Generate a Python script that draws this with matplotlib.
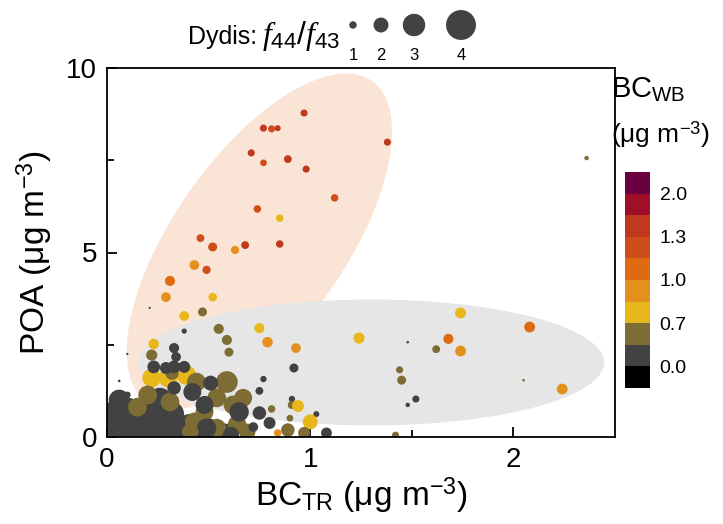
import matplotlib
matplotlib.use("Agg")
import matplotlib.pyplot as plt
import numpy as np
from matplotlib.colors import ListedColormap, BoundaryNorm
from matplotlib.patches import Ellipse
from matplotlib.transforms import Affine2D
import matplotlib.colorbar as mcolorbar

plt.rcParams['font.family'] = ['Liberation Sans', 'DejaVu Sans']
plt.rcParams['mathtext.fontset'] = 'custom'
plt.rcParams['mathtext.rm'] = 'Liberation Sans'
plt.rcParams['mathtext.it'] = 'Liberation Serif:italic'

# BC_TR, POA, BC_WB, f44/f43  (dense cluster near origin first, then the rest)
bc_tr = [0.04, 0.14, 0.24, 0.33, 0.10, 0.21, 0.31, 0.41, 0.49, 0.06, 0.26, 0.58, 0.01,
         0.22, 0.30, 0.39,
         0.20, 0.15, 0.31, 0.44, 0.59, 0.54, 0.62, 0.48, 0.43, 0.54, 0.64, 0.67, 0.32,
         0.34, 0.23, 0.33, 0.38, 0.29, 0.33, 0.42, 0.51, 0.48, 0.65, 0.49, 0.61, 0.07, 0.10,
         0.41, 0.69,
         0.97, 0.77, 0.81, 0.84, 1.38, 0.71, 0.77, 0.89, 0.98, 1.12, 0.74, 0.85, 0.85,
         0.46, 0.52, 0.68, 0.63, 0.43, 0.49, 0.31, 0.29, 0.52, 0.21, 0.38, 0.47,
         0.38, 0.55, 0.59, 0.60, 0.75, 0.79, 0.93, 0.23, 0.22, 0.33, 0.10, 0.06,
         0.92, 0.77, 0.75, 0.91, 0.91, 0.94, 0.81, 1.03, 1.00, 1.08, 0.90, 1.24,
         0.75, 0.80, 0.72, 0.84, 0.89, 0.97,
         1.74, 2.08, 1.68, 1.48, 1.62, 1.74, 1.44, 1.45, 2.05, 2.24, 1.52, 1.48, 1.42, 2.36]
poa = [0.24, 0.19, 0.24, 0.19, 0.68, 0.68, 0.60, 0.24, 0.19, 1.00, 1.00, 0.08, 0.60,
       1.60, 1.60, 1.68,
       1.14, 0.81, 0.95, 1.49, 1.49, 1.06, 0.87, 0.68, 0.41, 0.24, 0.33, 1.06, 1.73,
       2.17, 1.90, 1.90, 1.90, 1.87, 1.33, 1.22, 1.46, 0.87, 0.68, 0.24, 0.05, 1.08, 1.14,
       0.14, 0.14,
       8.78, 8.37, 8.35, 8.37, 7.99, 7.70, 7.43, 7.53, 7.26, 6.48, 6.18, 5.93, 5.23,
       5.39, 5.15, 5.20, 5.07, 4.66, 4.53, 4.23, 3.79, 3.79, 3.50, 3.28, 3.39,
       2.87, 2.93, 2.63, 2.30, 2.95, 2.57, 2.41, 2.52, 2.22, 2.41, 2.25, 1.52,
       1.87, 1.57, 1.25, 1.03, 0.87, 0.84, 0.76, 0.62, 0.41, 0.11, 0.51, 2.68,
       0.65, 0.38, 0.27, 0.11, 0.19, 0.11,
       3.36, 2.98, 2.66, 2.57, 2.38, 2.33, 1.82, 1.54, 1.54, 1.30, 1.03, 0.87, 0.05, 7.56]
bc_wb = [0.2, 0.2, 0.2, 0.2, 0.2, 0.2, 0.2, 0.2, 0.2, 0.2, 0.2, 0.2, 0.2,
         0.78, 0.78, 0.78,
         0.5, 0.5, 0.5, 0.5, 0.5, 0.5, 0.5, 0.5, 0.5, 0.5, 0.5, 0.5, 0.5,
         0.2, 0.2, 0.2, 0.2, 0.2, 0.2, 0.2, 0.2, 0.2, 0.2, 0.2, 0.2, 0.2, 0.2,
         0.5, 0.5,
         1.45, 1.45, 1.22, 1.45, 1.45, 1.45, 1.22, 1.45, 1.45, 1.22, 1.22, 0.78, 1.45,
         1.22, 1.22, 1.45, 0.92, 0.92, 1.22, 1.08, 0.92, 0.78, 0.2, 0.78, 0.5,
         0.2, 0.5, 0.5, 0.5, 0.78, 0.92, 0.92, 0.78, 0.5, 0.2, 0.2, 0.2,
         0.2, 0.2, 0.2, 0.2, 0.5, 0.78, 0.5, 0.2, 0.78, 0.2, 0.5, 0.78,
         0.2, 0.2, 0.2, 0.92, 0.5, 0.5,
         0.78, 1.08, 1.08, 0.2, 0.5, 0.92, 0.5, 0.5, 0.5, 0.92, 0.2, 0.2, 0.5, 0.5]
ratio = [4.3, 4.3, 4.3, 4.3, 3.8, 3.8, 3.8, 3.8, 3.3, 2.8, 3.3, 2.8, 3.3,
         2.5, 2.5, 2.6,
         2.5, 2.5, 2.5, 2.5, 2.9, 2.5, 2.5, 2.4, 2.5, 2.5, 2.5, 2.4, 1.8,
         1.3, 1.7, 1.7, 1.6, 1.6, 1.8, 2.4, 2.0, 2.4, 2.6, 2.6, 2.2, 0.7, 0.9,
         2.2, 2.2,
         0.95, 0.95, 0.95, 0.8, 0.95, 0.95, 0.9, 1.05, 0.95, 1.0, 1.0, 1.0, 1.0,
         1.05, 1.2, 1.05, 1.1, 1.3, 1.1, 1.35, 1.3, 1.15, 0.3, 1.3, 1.2,
         0.7, 1.35, 1.35, 1.2, 1.35, 1.4, 1.3, 1.4, 1.5, 1.35, 0.3, 0.35,
         1.2, 0.85, 1.05, 0.85, 1.1, 1.6, 1.0, 0.8, 2.0, 1.45, 0.9, 1.5,
         1.8, 1.6, 1.3, 1.0, 1.8, 1.6,
         1.45, 1.45, 1.35, 0.35, 1.05, 1.45, 0.95, 1.2, 0.35, 1.45, 0.95, 0.6, 0.95, 0.6]

cbar_colors = ['#000000', '#424242', '#7e6c35', '#e8b71c', '#e5901c',
               '#de6b14', '#cf4d1a', '#c0391f', '#a00f2a', '#6a0040']
cbar_bounds = [-0.35, 0.0, 0.35, 0.7, 0.85, 1.0, 1.15, 1.3, 1.65, 2.0, 2.35]
cbar_ticks = [0.0, 0.7, 1.0, 1.3, 2.0]
legend_sizes = [1, 2, 3, 4]

cmap = ListedColormap(cbar_colors)
norm = BoundaryNorm(cbar_bounds, cmap.N)
size_scale = 29.0

fig = plt.figure(figsize=(7.23, 5.24), dpi=100)
W, H = 723, 524
ax = fig.add_axes([107 / W, 1 - 437 / H, 508 / W, 369 / H])
ax.set_xlim(0, 2.5)
ax.set_ylim(0, 10)

# pixel-like units so the ellipses keep their drawn shape
sx = 508 / 2.5
sy = 369 / 10
tr = Affine2D().scale(1 / sx, 1 / sy) + ax.transData
ax.add_patch(Ellipse((0.75 * sx, 5.30 * sy), 392, 172, angle=55,
                     transform=tr, facecolor='#fae4d6', edgecolor='none', zorder=0))
ax.add_patch(Ellipse((1.30 * sx, 2.02 * sy), 466, 126, angle=0,
                     transform=tr, facecolor='#e6e6e6', edgecolor='none', zorder=0.5))

s = size_scale * np.array(ratio) ** 2
ax.scatter(bc_tr, poa, s=s, c=bc_wb, cmap=cmap, norm=norm, edgecolors='none', zorder=2)

for sp in ax.spines.values():
    sp.set_linewidth(1.3)
    sp.set_zorder(5)
ax.set_xticks([0, 1, 2])
ax.set_xticks([0.5, 1.5], minor=True)
ax.set_yticks([0, 5, 10])
ax.set_yticks([2.5, 7.5], minor=True)
ax.tick_params(which='both', direction='in', width=1.3, labelsize=20, pad=7)
ax.tick_params(which='major', length=7)
ax.tick_params(which='minor', length=5)
ax.set_xlabel(r'BC$_{\mathrm{TR}}$ (μg m$^{\mathrm{-3}}$)', fontsize=24, labelpad=2)
ax.set_ylabel(r'POA (μg m$^{\mathrm{-3}}$)', fontsize=24, labelpad=8)

# colorbar
cax = fig.add_axes([625 / W, 1 - 388 / H, 25 / W, 216 / H])
cb = mcolorbar.ColorbarBase(cax, cmap=cmap, norm=norm, boundaries=cbar_bounds,
                            spacing='uniform', ticks=cbar_ticks)
cb.outline.set_visible(False)
cb.minorticks_off()
cb.ax.set_yticklabels(['0.0', '0.7', '1.0', '1.3', '2.0'])
cb.ax.tick_params(length=0, labelsize=14, pad=7)
fig.text(611 / W, 1 - 90 / H, r'BC$_{\mathrm{WB}}$', fontsize=21, ha='left', va='center')
fig.text(611 / W, 1 - 135 / H, r'(μg m$^{\mathrm{-3}}$)', fontsize=19, ha='left', va='center')

# size legend
fig.text(188 / W, 1 - 44 / H, 'Dydis:', fontsize=18, ha='left', va='baseline')
fig.text(262 / W, 1 - 44 / H, r'$f_{\mathrm{44}}/f_{\mathrm{43}}$', fontsize=23,
         ha='left', va='baseline')
lax = fig.add_axes([330 / W, 1 - 66 / H, 160 / W, 60 / H])
lax.set_xlim(330, 490)
lax.set_ylim(66, 6)
lax.axis('off')
leg_x = [353, 381, 414, 461]
lax.scatter(leg_x, [25] * 4, s=size_scale * np.array(legend_sizes) ** 2,
            color='#424242', edgecolors='none', clip_on=False)
for xx, lab in zip(leg_x, legend_sizes):
    lax.text(xx, 56, str(lab), ha='center', va='center', fontsize=12)

fig.savefig('out.png', dpi=100)
